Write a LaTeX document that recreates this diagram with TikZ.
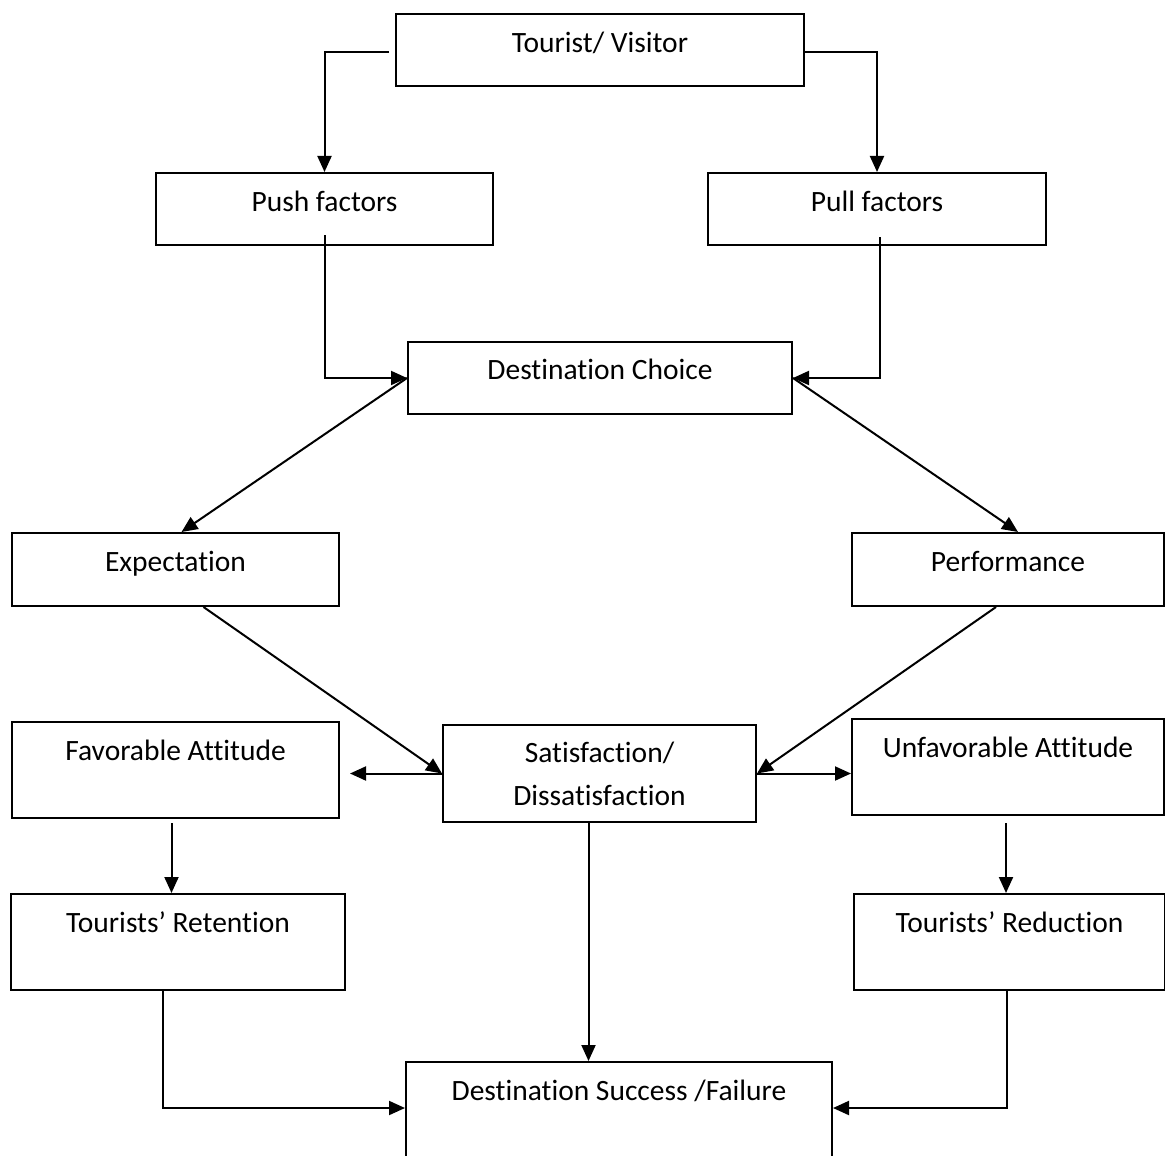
\documentclass[tikz,border=0pt]{standalone}
\usepackage{fontspec}
\setmainfont{Carlito}[Ligatures={NoCommon,NoRequired,NoContextual}]
\usetikzlibrary{arrows.meta,calc}
\begin{document}
\begin{tikzpicture}[x=0.5pt,y=-0.5pt,
  box/.style={draw, line width=1pt, rectangle, inner sep=0pt, anchor=north west, font=\fontsize{14.75}{21.5}\selectfont},
  arr/.style={line width=1pt, -{Triangle[length=8pt,width=7pt]}}]
\useasboundingbox (0,0) rectangle (1165,1155);
\clip (0,0) rectangle (1165,1155);
\node[box, minimum width=204pt, text height=19.5pt, text depth=16.5pt] (tv) at (395,13) {Tourist/ Visitor};
\node[box, minimum width=168.5pt, text height=19.5pt, text depth=16.5pt] (push) at (155,172) {Push factors};
\node[box, minimum width=169pt, text height=19.5pt, text depth=16.5pt] (pull) at (707,172) {Pull factors};
\node[box, minimum width=192pt, text height=18.75pt, text depth=17.25pt] (dc) at (407,341) {Destination Choice};
\node[box, minimum width=163.5pt, text height=19.35pt, text depth=17.15pt] (exp) at (11,532) {Expectation};
\node[box, minimum width=156pt, text height=19.35pt, text depth=17.15pt] (perf) at (851,532) {Performance};
\node[box, minimum width=163.5pt, text height=19.15pt, text depth=28.85pt] (fav) at (11,721) {Favorable Attitude};
\node[box, minimum width=156.5pt, minimum height=48.5pt, align=center] (sat) at (442,724) {Satisfaction/\\Dissatisfaction};
\node[box, minimum width=156pt, text height=19pt, text depth=29pt] (unfav) at (851,718) {Unfavorable Attitude};
\node[box, minimum width=167pt, text height=19pt, text depth=29pt] (ret) at (10,893) {Tourists’ Retention};
\node[box, minimum width=155.5pt, text height=19pt, text depth=29pt] (red) at (853,893) {Tourists’ Reduction};
\node[box, minimum width=213pt, text height=19pt, text depth=41pt] (ds) at (405,1061) {Destination Success /Failure};
\draw[arr] ($(tv.north west)+(-6,39)$) -| (push.north);
\draw[arr] ($(tv.north east)+(0,39)$) -| (pull.north);
\draw[arr] ($(push.south)+(0,-11)$) |- (dc.west);
\draw[arr] ($(pull.south)+(3,-9)$) |- (dc.east);
\draw[arr] (dc.west) -- ($(exp.north)+(6,0)$);
\draw[arr] (dc.east) -- ($(perf.north)+(10,0)$);
\draw[arr] ($(exp.south)+(28,0)$) -- (sat.west);
\draw[arr] ($(perf.south)+(-12,0)$) -- (sat.east);
\draw[arr] (sat.west) -- ($(fav.east|-sat.west)+(10,0)$);
\draw[arr] (sat.east) -- (unfav.west|-sat.east);
\draw[arr] ($(fav.south)+(-4,4)$) coordinate (f1) -- (f1|-ret.north);
\draw[arr] ($(unfav.south)+(-2,7)$) coordinate (u1) -- (u1|-red.north);
\draw[arr] ($(ret.south)+(-15,0)$) |- ($(ds.north west)+(0,47)$);
\draw[arr] ($(red.south)+(-3,0)$) |- ($(ds.north east)+(0,47)$);
\draw[arr] ($(sat.south)+(-11,0)$) coordinate (s1) -- (s1|-ds.north);
\end{tikzpicture}
\end{document}
